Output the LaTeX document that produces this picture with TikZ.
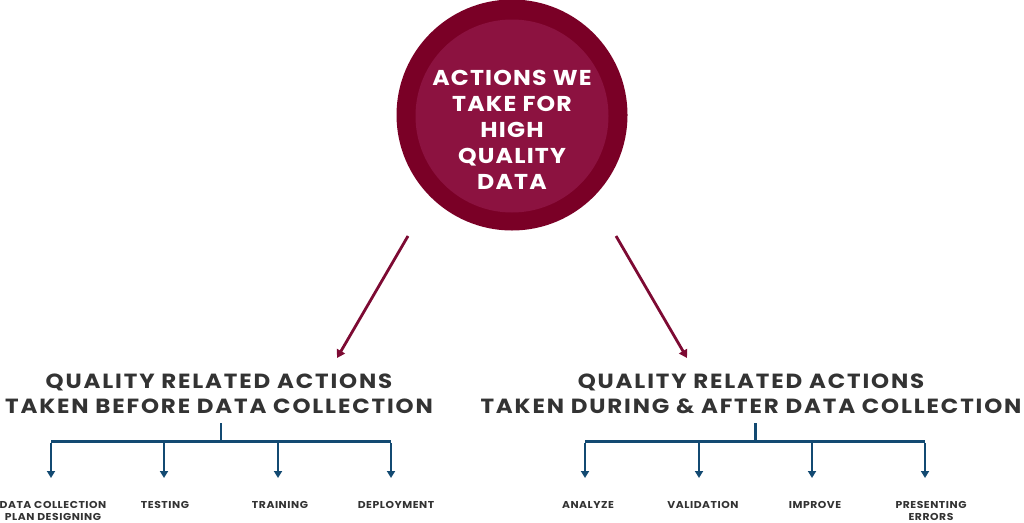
\documentclass[tikz,border=0pt]{standalone}
\usepackage{graphicx}
\usepackage{fontspec}
\setmainfont{Poppins}
\newfontfamily\headfont[LetterSpace=8]{Poppins}
\newfontfamily\circfont[LetterSpace=5]{Poppins}
\newfontfamily\leaffont[LetterSpace=5]{Poppins}
\newcommand{\wideH}[1]{\scalebox{1.12}[1]{#1}}
\newcommand{\wideC}[1]{\scalebox{1.10}[1]{#1}}
\newcommand{\wideL}[1]{\scalebox{1.08}[1]{#1}}
\usetikzlibrary{arrows.meta}
\definecolor{circout}{HTML}{7A0026}
\definecolor{circin}{HTML}{8C1240}
\definecolor{arrred}{HTML}{7D0A33}
\definecolor{treeblue}{HTML}{134A72}
\definecolor{headgray}{HTML}{333333}
\tikzset{
  redarrow/.style={draw=arrred, line width=2.8pt, -{Triangle[width=9pt,length=8pt]}},
  treeline/.style={draw=treeblue, line width=2.6pt},
  treearrow/.style={draw=treeblue, line width=2.6pt, -{Triangle[width=8pt,length=7pt]}},
  heading/.style={font=\headfont\bfseries\fontsize{20.5}{25.5}\selectfont, text=headgray, align=center, inner sep=0pt},
  leaf/.style={font=\leaffont\bfseries\fontsize{10}{12}\selectfont, text=headgray, align=center, inner sep=0pt},
}
\begin{document}
\begin{tikzpicture}[x=1pt,y=-1pt]
\useasboundingbox (0,0) rectangle (1024,522);
% circle
\node[circle, fill=circout, minimum size=231pt, inner sep=0pt] (c) at (512,115) {};
\node[circle, fill=circin, minimum size=193pt, inner sep=0pt] (ci) at (512,116) {};
\node[font=\circfont\bfseries\fontsize{21.5}{26}\selectfont, text=white, align=center, inner sep=0pt] (ct) at (512,130)
  {\wideC{ACTIONS WE}\\\wideC{TAKE FOR}\\\wideC{HIGH}\\\wideC{QUALITY}\\\wideC{DATA}};
% red arrows
\coordinate (a1s) at (408,236);
\coordinate (a1e) at (337,358);
\coordinate (a2s) at (616,236);
\coordinate (a2e) at (687,358);
\draw[redarrow] (a1s) -- (a1e);
\draw[redarrow] (a2s) -- (a2e);
% headings
\node[heading] (hL) at (219,394) {\wideH{QUALITY RELATED ACTIONS}\\\wideH{TAKEN BEFORE DATA COLLECTION}};
\node[heading] (hR) at (751,394) {\wideH{QUALITY RELATED ACTIONS}\\\wideH{TAKEN DURING \& AFTER DATA COLLECTION}};
% left tree
\coordinate (sL) at (221,423);
\coordinate (jL) at (221,441.5);
\coordinate (l1) at (51,441.5);
\coordinate (l2) at (164,441.5);
\coordinate (l3) at (278,441.5);
\coordinate (l4) at (391,441.5);
\draw[treeline] (sL) -- (jL);
\draw[treeline] (l1) -- (l4);
\node[leaf, anchor=north] (L1) at (53,501) {\wideL{DATA COLLECTION}\\\wideL{PLAN DESIGNING}};
\node[leaf, anchor=north] (L2) at (165,501) {\wideL{TESTING}};
\node[leaf, anchor=north] (L3) at (280,501) {\wideL{TRAINING}};
\node[leaf, anchor=north] (L4) at (396,501) {\wideL{DEPLOYMENT}};
\foreach \p in {l1,l2,l3,l4}
  \draw[treearrow] ([yshift=-1.3pt]\p) -- (\p |- 0,478);
% right tree
\coordinate (sR) at (755.5,423);
\coordinate (jR) at (755.5,441.5);
\coordinate (r1) at (585,441.5);
\coordinate (r2) at (699,441.5);
\coordinate (r3) at (812,441.5);
\coordinate (r4) at (925,441.5);
\draw[treeline] (sR) -- (jR);
\draw[treeline] (r1) -- (r4);
\node[leaf, anchor=north] (R1) at (588,501) {\wideL{ANALYZE}};
\node[leaf, anchor=north] (R2) at (703,501) {\wideL{VALIDATION}};
\node[leaf, anchor=north] (R3) at (815,501) {\wideL{IMPROVE}};
\node[leaf, anchor=north] (R4) at (931,501) {\wideL{PRESENTING}\\\wideL{ERRORS}};
\foreach \p in {r1,r2,r3,r4}
  \draw[treearrow] ([yshift=-1.3pt]\p) -- (\p |- 0,478);
\end{tikzpicture}
\end{document}
